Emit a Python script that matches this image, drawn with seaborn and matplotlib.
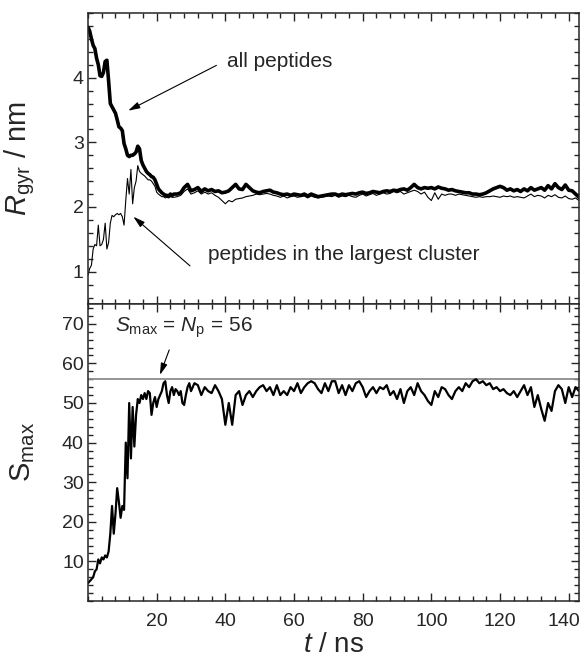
import matplotlib
matplotlib.use("Agg")
import matplotlib.pyplot as plt
import matplotlib.transforms as mtrans
import seaborn as sns
import pandas as pd
from matplotlib.ticker import MultipleLocator, FixedLocator

# ---------------- data ----------------
t_rg = [0, 0.5, 1, 1.5, 2, 2.5, 3, 3.5, 4, 4.5,
        5, 5.5, 6, 6.5, 7, 7.5, 8, 8.5, 9, 9.5,
        10, 10.5, 11, 11.5, 12, 12.5, 13, 13.5, 14, 14.5,
        15, 15.5, 16, 16.5, 17, 17.5, 18, 18.5, 19, 19.5,
        20, 20.5, 21, 21.5, 22, 22.5, 23, 23.5, 24, 24.5,
        25,
        26, 27, 28, 29, 30, 31, 32, 33, 34, 35,
        36, 37, 38, 39, 40, 41, 42, 43, 44, 45,
        46, 47, 48, 49, 50, 51, 52, 53, 54, 55,
        56, 57, 58, 59, 60, 61, 62, 63, 64, 65,
        66, 67, 68, 69, 70, 71, 72, 73, 74, 75,
        76, 77, 78, 79, 80, 81, 82, 83, 84, 85,
        86, 87, 88, 89, 90, 91, 92, 93, 94, 95,
        96, 97, 98, 99, 100, 101, 102, 103, 104, 105,
        106, 107, 108, 109, 110, 111, 112, 113, 114, 115,
        116, 117, 118, 119, 120, 121, 122, 123, 124, 125,
        126, 127, 128, 129, 130, 131, 132, 133, 134, 135,
        136, 137, 138, 139, 140, 141, 142, 143]

rg_all = [4.78, 4.72, 4.60, 4.50, 4.45, 4.30, 4.20, 4.03, 4.02, 4.08,
          4.25, 4.27, 3.95, 3.60, 3.55, 3.50, 3.45, 3.35, 3.24, 3.22,
          3.18, 2.98, 2.90, 2.80, 2.78, 2.80, 2.80, 2.82, 2.85, 2.94,
          2.90, 2.72, 2.65, 2.60, 2.55, 2.52, 2.50, 2.47, 2.46, 2.42,
          2.35, 2.28, 2.25, 2.22, 2.20, 2.18, 2.18, 2.17, 2.20, 2.18,
          2.20,
          2.20, 2.22, 2.30, 2.35, 2.25, 2.27, 2.30, 2.24, 2.28, 2.25,
          2.27, 2.24, 2.25, 2.22, 2.23, 2.25, 2.30, 2.35, 2.28, 2.27,
          2.35, 2.30, 2.25, 2.23, 2.22, 2.24, 2.25, 2.26, 2.23, 2.22,
          2.20, 2.19, 2.20, 2.18, 2.20, 2.19, 2.18, 2.20, 2.17, 2.20,
          2.18, 2.16, 2.17, 2.18, 2.19, 2.20, 2.20, 2.18, 2.20, 2.19,
          2.20, 2.21, 2.20, 2.22, 2.23, 2.21, 2.22, 2.24, 2.23, 2.22,
          2.24, 2.25, 2.24, 2.26, 2.25, 2.27, 2.28, 2.26, 2.30, 2.35,
          2.30, 2.28, 2.30, 2.29, 2.30, 2.28, 2.31, 2.29, 2.28, 2.26,
          2.27, 2.25, 2.24, 2.23, 2.22, 2.22, 2.20, 2.20, 2.19, 2.20,
          2.22, 2.25, 2.28, 2.30, 2.32, 2.30, 2.26, 2.28, 2.25, 2.27,
          2.24, 2.28, 2.25, 2.30, 2.26, 2.28, 2.30, 2.26, 2.33, 2.28,
          2.36, 2.30, 2.27, 2.34, 2.26, 2.25, 2.20, 2.15]

rg_cluster = [0.95, 1.05, 1.10, 1.35, 1.42, 1.40, 1.72, 1.40, 1.42, 1.50,
              1.75, 1.35, 1.45, 1.75, 1.87, 1.85, 1.88, 1.90, 1.88, 1.90,
              1.85, 1.72, 2.10, 2.44, 2.20, 2.58, 2.05, 2.30, 2.40, 2.64,
              2.55, 2.52, 2.50, 2.48, 2.45, 2.42, 2.42, 2.40, 2.36, 2.32,
              2.23, 2.20, 2.18, 2.16, 2.16, 2.14, 2.15, 2.14, 2.16, 2.15,
              2.15,
              2.16, 2.18, 2.24, 2.28, 2.20, 2.22, 2.25, 2.20, 2.23, 2.20,
              2.22, 2.18, 2.15, 2.10, 2.05, 2.10, 2.08, 2.12, 2.13, 2.14,
              2.16, 2.17, 2.18, 2.20, 2.19, 2.20, 2.21, 2.20, 2.18, 2.17,
              2.15, 2.17, 2.14, 2.16, 2.17, 2.15, 2.16, 2.17, 2.14, 2.17,
              2.15, 2.14, 2.15, 2.16, 2.17, 2.16, 2.18, 2.15, 2.17, 2.16,
              2.18, 2.16, 2.15, 2.18, 2.20, 2.17, 2.19, 2.21, 2.18, 2.20,
              2.22, 2.20, 2.21, 2.24, 2.22, 2.24, 2.20, 2.22, 2.24, 2.26,
              2.24, 2.20, 2.23, 2.15, 2.10, 2.22, 2.12, 2.20, 2.18, 2.20,
              2.20, 2.18, 2.20, 2.19, 2.18, 2.17, 2.16, 2.15, 2.16, 2.15,
              2.16, 2.16, 2.17, 2.16, 2.15, 2.17, 2.16, 2.17, 2.15, 2.16,
              2.15, 2.14, 2.17, 2.20, 2.16, 2.18, 2.17, 2.14, 2.18, 2.16,
              2.19, 2.15, 2.14, 2.17, 2.13, 2.12, 2.14, 2.10]

t_s = [0, 0.5, 1, 1.5, 2, 2.5, 3, 3.5, 4, 4.5,
       5, 5.5, 6, 6.5, 7, 7.5, 8, 8.5, 9, 9.5,
       10, 10.5, 11, 11.5, 12, 12.5, 13, 13.5, 14, 14.5,
       15, 15.5, 16, 16.5, 17, 17.5, 18, 18.5, 19, 19.5,
       20, 20.5, 21, 21.5, 22, 22.5, 23, 23.5, 24, 24.5,
       25, 25.5, 26, 26.5, 27, 27.5, 28, 28.5, 29, 29.5,
       30,
       31, 32, 33, 34, 35, 36, 37, 38, 39, 40,
       41, 42, 43, 44, 45, 46, 47, 48, 49, 50,
       51, 52, 53, 54, 55, 56, 57, 58, 59, 60,
       61, 62, 63, 64, 65, 66, 67, 68, 69, 70,
       71, 72, 73, 74, 75, 76, 77, 78, 79, 80,
       81, 82, 83, 84, 85, 86, 87, 88, 89, 90,
       91, 92, 93, 94, 95, 96, 97, 98, 99, 100,
       101, 102, 103, 104, 105, 106, 107, 108, 109, 110,
       111, 112, 113, 114, 115, 116, 117, 118, 119, 120,
       121, 122, 123, 124, 125, 126, 127, 128, 129, 130,
       131, 132, 133, 134, 135, 136, 137, 138, 139, 140,
       141, 142, 143]

s_max = [4.5, 5.0, 5.5, 6.0, 7.5, 8.0, 10.5, 9.5, 11.0, 10.5,
         11.5, 11.0, 12.5, 17.0, 24.0, 17.0, 22.0, 28.5, 25.0, 21.0,
         24.0, 23.0, 40.0, 31.0, 50.0, 36.0, 49.0, 39.0, 47.0, 51.0,
         50.0, 52.0, 51.0, 52.5, 51.0, 53.0, 52.5, 47.0, 50.0, 51.5,
         49.0, 51.0, 52.0, 53.0, 55.0, 55.5, 52.0, 50.0, 53.0, 54.0,
         52.0, 53.5, 53.0, 52.0, 53.0, 50.0, 49.5, 52.0, 54.0, 55.0,
         53.0,
         55, 54.5, 52, 54, 53, 52.5, 54.5, 53, 51, 44.5,
         50, 44.5, 52, 53, 49.5, 52, 53, 51.5, 53, 54,
         54.5, 53, 54, 52, 54.5, 52, 53, 52, 54, 53,
         55, 52.5, 54, 55, 55.5, 55, 53.5, 52.5, 55, 53,
         55.5, 55.5, 52.5, 54.5, 52, 54.5, 53, 55, 55.5, 54,
         51.5, 53, 54, 52.5, 54, 53.5, 54.5, 52, 53, 51,
         53.5, 50, 53, 54, 52, 55, 53, 52, 50.5, 49.5,
         53, 51.5, 54, 53.5, 52, 51, 53, 54, 53, 55,
         54, 55.5, 56, 55, 55.5, 54.5, 55, 53.5, 54, 53,
         53.5, 52.5, 52, 53, 51.5, 53, 54.5, 52, 54, 49,
         52, 48.5, 45.5, 50, 48, 53, 54.5, 53.5, 50, 54,
         51.5, 54, 53]

n_p = 56
x_ticks = [20, 40, 60, 80, 100, 120, 140]
rg_ticks = [1, 2, 3, 4]
s_ticks = [10, 20, 30, 40, 50, 60, 70]

df_rg = pd.DataFrame({"t": t_rg, "all": rg_all, "cluster": rg_cluster})
df_s = pd.DataFrame({"t": t_s, "smax": s_max})

# ---------------- style ----------------
sns.set_style("ticks")
plt.rcParams["font.family"] = ["Liberation Sans", "DejaVu Sans"]
plt.rcParams["mathtext.fontset"] = "custom"
plt.rcParams["mathtext.rm"] = "Liberation Sans"
plt.rcParams["mathtext.it"] = "Liberation Sans:italic"
plt.rcParams["mathtext.bf"] = "Liberation Sans:bold"

W, H = 581, 659
fig = plt.figure(figsize=(W / 100, H / 100), dpi=100)
L, R, T, M, B = 88, 579, 13, 304, 601
ax1 = fig.add_axes([L / W, 1 - M / H, (R - L) / W, (M - T) / H])
ax2 = fig.add_axes([L / W, 1 - B / H, (R - L) / W, (B - M) / H], sharex=ax1)

sns.lineplot(data=df_rg, x="t", y="cluster", ax=ax1, color="black",
             linewidth=0.8, estimator=None)
sns.lineplot(data=df_rg, x="t", y="all", ax=ax1, color="black",
             linewidth=2.6, estimator=None)
ax2.axhline(n_p, color="#8c8c8c", lw=1.3, zorder=1)
sns.lineplot(data=df_s, x="t", y="smax", ax=ax2, color="black",
             linewidth=1.6, estimator=None)

ax1.set_xlim(0, 143)
ax1.set_ylim(0.5, 5.0)
ax2.set_ylim(0, 75)

for ax in (ax1, ax2):
    ax.tick_params(which="both", direction="in", top=True, right=True,
                   labelsize=14, width=1.0)
    ax.tick_params(which="major", length=6)
    ax.tick_params(which="minor", length=3.5)
    ax.tick_params(axis="y", pad=3)
    ax.tick_params(axis="x", pad=9)
    for s in ax.spines.values():
        s.set_linewidth(1.1)
        s.set_visible(True)
    ax.xaxis.set_major_locator(FixedLocator(x_ticks))
    ax.xaxis.set_minor_locator(MultipleLocator(4))

ax1.yaxis.set_major_locator(FixedLocator(rg_ticks))
ax1.yaxis.set_minor_locator(MultipleLocator(0.2))
ax2.yaxis.set_major_locator(FixedLocator(s_ticks))
ax2.yaxis.set_minor_locator(MultipleLocator(2))
ax1.tick_params(axis="x", labelbottom=False)

ax1.set_xlabel("")
ax1.set_ylabel(r"$R_{\mathrm{gyr}}$ / nm", fontsize=21)
ax2.set_ylabel(r"$\mathrm{S}_{\mathrm{max}}$", fontsize=21)
ax2.set_xlabel(r"$t$ / ns", fontsize=20)
ax1.yaxis.set_label_coords(-0.104, 0.5)
ax2.yaxis.set_label_coords(-0.104, 0.5)
ax2.xaxis.set_label_coords(0.5, -0.105)

# keep the last x tick label ("140") inside the canvas, as in the reference
fig.canvas.draw()
last = ax2.get_xticklabels()[-1]
last.set_transform(last.get_transform() +
                   mtrans.ScaledTranslation(-5 / 100, 0, fig.dpi_scale_trans))

arrow = dict(arrowstyle="-|>,head_length=0.7,head_width=0.2", color="black",
             lw=0.8, shrinkA=0, shrinkB=0)
ax1.text(40.5, 4.25, "all peptides", fontsize=15, ha="left", va="center")
ax1.annotate("", xy=(11.7, 3.49), xytext=(37.4, 4.19), arrowprops=arrow)
ax1.text(35, 1.26, "peptides in the largest cluster", fontsize=15,
         ha="left", va="center")
ax1.annotate("", xy=(13.2, 1.85), xytext=(29.7, 1.09), arrowprops=arrow)
ax2.text(7.9, 69, r"$S_{\mathrm{max}}$ = $N_{\mathrm{p}}$ = 56", fontsize=15,
         ha="left", va="center")
ax2.annotate("", xy=(20.95, 57.1), xytext=(23.65, 63.4), arrowprops=arrow)

fig.savefig("out.png", dpi=100)
